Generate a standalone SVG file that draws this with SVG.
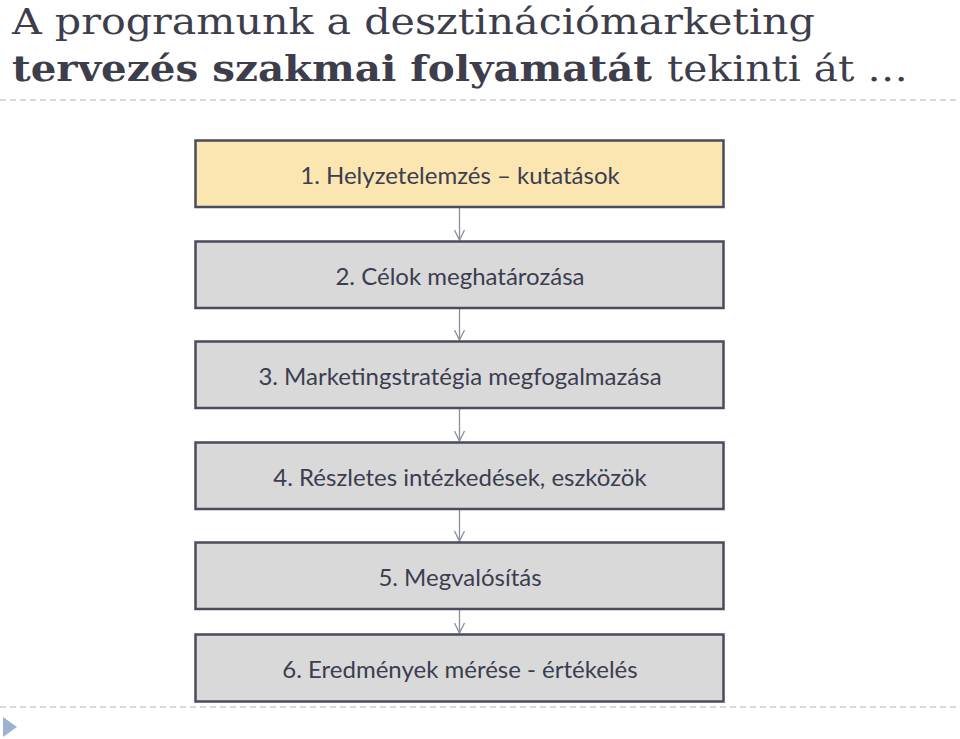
<svg xmlns="http://www.w3.org/2000/svg" width="960" height="739" viewBox="0 0 960 739">
<defs>
<style>
.title{font-family:"DejaVu Serif","Liberation Serif",serif;font-size:35px;fill:#3d3d4b}
.b{font-weight:bold}
.box{stroke:#4a4b5c;stroke-width:2.5}
.g{fill:#d9d9d9}
.y{fill:#fbe5b1}
.lbl{font-family:Lato,"Noto Sans",sans-serif;font-size:24px;fill:#3b3d50;text-anchor:middle}
.sep{stroke:#a9b3bd;stroke-width:1.2;stroke-dasharray:6 4;fill:none}
.con{stroke:#8a8e9a;stroke-width:1.3;fill:none}
</style>
<marker id="arr" viewBox="0 0 12 12" refX="11" refY="6" markerWidth="12" markerHeight="12" markerUnits="userSpaceOnUse" orient="auto">
<path d="M1,1 L11,6 L1,11" fill="none" stroke="#8a8e9a" stroke-width="1.3"/>
</marker>
</defs>
<rect width="960" height="739" fill="#ffffff"/>
<g id="title">
<text class="title" x="12" y="34" textLength="803" lengthAdjust="spacingAndGlyphs">A programunk a desztinációmarketing</text>
<text class="title b" x="12" y="81" textLength="640" lengthAdjust="spacingAndGlyphs">tervezés szakmai folyamatát</text>
<text class="title" x="667" y="81" textLength="241" lengthAdjust="spacingAndGlyphs">tekinti át …</text>
</g>
<line class="sep" x1="0" y1="100" x2="960" y2="100"/>
<line class="sep" x1="0" y1="707" x2="960" y2="707"/>
<polygon id="bullet" points="3,717 17,727 3,737" fill="#9bb3cf"/>
<g id="connectors">
<line class="con" x1="459.5" y1="207" x2="459.5" y2="240" marker-end="url(#arr)"/>
<line class="con" x1="459.5" y1="308" x2="459.5" y2="340" marker-end="url(#arr)"/>
<line class="con" x1="459.5" y1="408" x2="459.5" y2="441" marker-end="url(#arr)"/>
<line class="con" x1="459.5" y1="509" x2="459.5" y2="541" marker-end="url(#arr)"/>
<line class="con" x1="459.5" y1="609" x2="459.5" y2="633" marker-end="url(#arr)"/>
</g>
<g id="n1"><rect class="box y" x="195.5" y="140.5" width="528" height="66.5"/><text class="lbl" x="460" y="184">1. Helyzetelemzés – kutatások</text></g>
<g id="n2"><rect class="box g" x="195.5" y="241.5" width="528" height="66.5"/><text class="lbl" x="460" y="285">2. Célok meghatározása</text></g>
<g id="n3"><rect class="box g" x="195.5" y="341.5" width="528" height="66.5"/><text class="lbl" x="460" y="385">3. Marketingstratégia megfogalmazása</text></g>
<g id="n4"><rect class="box g" x="195.5" y="442.5" width="528" height="66.5"/><text class="lbl" x="460" y="486">4. Részletes intézkedések, eszközök</text></g>
<g id="n5"><rect class="box g" x="195.5" y="542.5" width="528" height="66.5"/><text class="lbl" x="460" y="586">5. Megvalósítás</text></g>
<g id="n6"><rect class="box g" x="195.5" y="634.5" width="528" height="67"/><text class="lbl" x="460" y="678">6. Eredmények mérése - értékelés</text></g>
</svg>
